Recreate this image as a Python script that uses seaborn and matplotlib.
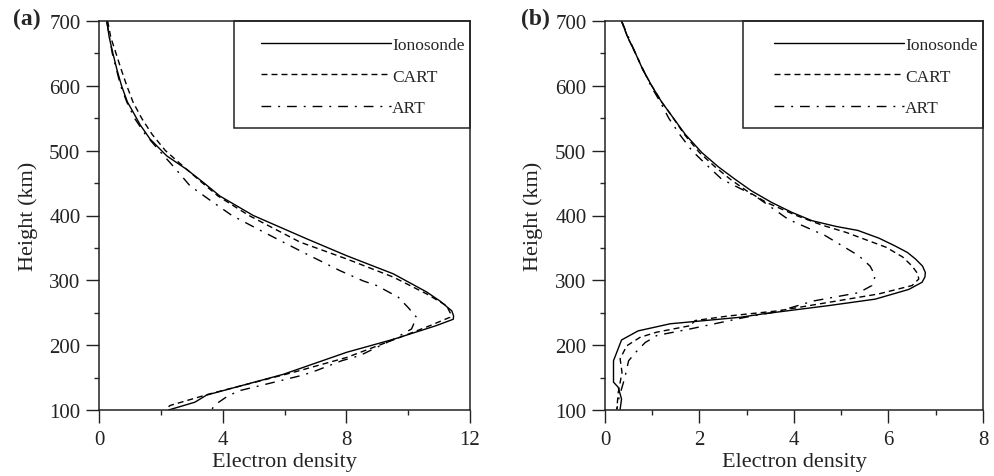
import pandas as pd
import seaborn as sns
import matplotlib.pyplot as plt
from matplotlib.patches import Rectangle

# Panel (a) profiles: height (km) and electron density
iono_a_h = [700, 675, 650, 625, 600, 575, 559, 540, 518, 492, 471, 450, 430, 400, 364, 338, 310, 282, 268, 253, 245, 240,
            230, 209, 189, 155, 123, 112, 100]
iono_a_v = [0.25, 0.33, 0.45, 0.58, 0.73, 0.92, 1.11, 1.33, 1.65, 2.19, 2.84, 3.4, 3.91, 4.99, 6.72, 8.01, 9.52, 10.6, 11.03,
            11.41, 11.47, 11.46, 10.9, 9.52, 8.01, 5.96, 3.48, 3.10, 2.25]

cart_a_h = [700, 675, 650, 625, 600, 575, 550, 525, 500, 471, 450, 430, 400, 359, 333, 305, 279, 261, 248, 243,
            230, 212, 181, 158, 125, 107, 101]
cart_a_v = [0.28, 0.38, 0.55, 0.72, 0.9, 1.1, 1.38, 1.72, 2.15, 2.84, 3.35, 3.85, 4.85, 6.5, 8.01, 9.52, 10.6, 11.24, 11.38,
            11.35, 10.7, 9.73, 8.01, 6.28, 3.59, 2.3, 2.15]

art_a_h = [700, 650, 600, 575, 550, 525, 500, 475, 446, 425, 400, 380, 364, 343, 315, 299, 292, 274, 258, 243,
           225, 209, 184, 176, 161, 154, 145, 130, 122, 108, 101]
art_a_v = [0.25, 0.43, 0.7, 0.9, 1.15, 1.5, 1.95, 2.42, 2.94, 3.55, 4.3, 5.1, 5.75, 6.61, 7.79, 8.55, 8.98, 9.68, 10.0, 10.27,
           10.11, 9.52, 8.44, 7.85, 7.04, 6.61, 5.85, 4.56, 4.18, 3.75, 3.65]

# Panel (b) profiles
iono_b_h = [700, 675, 651, 625, 600, 575, 554, 525, 497, 475, 456, 438, 420, 405, 392, 383, 377, 365, 353, 343, 333, 322,
            312, 305, 297, 286, 271, 261, 248, 243, 233, 222, 208, 176, 143, 135, 117, 101]
iono_b_v = [0.35, 0.48, 0.64, 0.8, 0.99, 1.2, 1.41, 1.7, 2.05, 2.4, 2.75, 3.1, 3.53, 3.95, 4.38, 4.9, 5.35, 5.8, 6.14, 6.4,
            6.57, 6.72, 6.78, 6.77, 6.71, 6.43, 5.72, 4.73, 3.32, 2.86, 1.38, 0.70, 0.35, 0.18, 0.18, 0.28, 0.35, 0.32]

cart_b_h = [700, 675, 651, 625, 600, 575, 554, 525, 497, 475, 456, 438, 420, 400, 385, 374, 351, 336, 322, 310, 302, 292,
            279, 266, 253, 245, 238, 230, 220, 212, 199, 179, 158, 127, 101]
cart_b_v = [0.35, 0.48, 0.64, 0.8, 0.99, 1.2, 1.41, 1.68, 2.0, 2.33, 2.65, 3.0, 3.42, 4.05, 4.6, 5.1, 5.95, 6.3, 6.5, 6.62,
            6.64, 6.5, 5.79, 4.73, 3.67, 2.61, 1.91, 1.8, 1.09, 0.74, 0.46, 0.32, 0.36, 0.28, 0.25]

art_b_h = [700, 651, 600, 575, 550, 525, 500, 478, 456, 430, 394, 369, 338, 322, 307, 292, 281, 268, 252, 243,
           225, 215, 204, 189, 176, 150, 120, 101]
art_b_v = [0.35, 0.64, 0.97, 1.17, 1.35, 1.58, 1.84, 2.15, 2.47, 3.18, 3.88, 4.66, 5.37, 5.61, 5.72, 5.65, 5.37, 4.4, 3.67,
           2.97, 1.8, 1.1, 0.85, 0.65, 0.5, 0.42, 0.3, 0.25]

labels = ['Ionosonde', 'CART', 'ART']
styles = ['-', (0, (4.3, 2.9)), (0, (7, 5, 1.4, 5))]

sns.set_style('ticks')
plt.rcParams['font.family'] = ['Liberation Serif', 'DejaVu Serif']
plt.rcParams['lines.scale_dashes'] = False

fig = plt.figure(figsize=(9.95, 4.77), dpi=100)
ax_a = fig.add_axes([99 / 995, 66 / 477, 371 / 995, 389 / 477])
ax_b = fig.add_axes([605 / 995, 66 / 477, 378 / 995, 389 / 477])

panels = [
    (ax_a, [(iono_a_v, iono_a_h), (cart_a_v, cart_a_h), (art_a_v, art_a_h)], 12, 4, 2),
    (ax_b, [(iono_b_v, iono_b_h), (cart_b_v, cart_b_h), (art_b_v, art_b_h)], 8, 2, 1),
]

for ax, series, xmax, xstep, xminor in panels:
    for (v, h), lab, ls in zip(series, labels, styles):
        df = pd.DataFrame({'v': v, 'h': h})
        sns.lineplot(data=df, x='v', y='h', sort=False, estimator=None,
                     color='black', linewidth=1.0, linestyle=ls, label=lab, ax=ax)
    ax.set_xlim(0, xmax)
    ax.set_ylim(100, 700)
    ax.set_xticks(range(0, xmax + 1, xstep))
    ax.set_xticks(range(0, xmax + 1, xminor), minor=True)
    ax.set_yticks(range(100, 701, 100))
    ax.set_yticks(range(150, 700, 100), minor=True)
    ax.tick_params(which='major', direction='out', length=9.4, width=1.0, labelsize=15, colors='#222222')
    ax.tick_params(axis='x', which='major', pad=5)
    ax.tick_params(axis='y', which='major', pad=4)
    ax.tick_params(which='minor', direction='out', length=3.6, width=1.0)
    for sp in ax.spines.values():
        sp.set_linewidth(1.1)
        sp.set_color('#222222')
    ax.set_xlabel('Electron density', fontsize=16, color='#222222')
    ax.set_ylabel('Height (km)', fontsize=16, color='#222222')
    ax.xaxis.set_label_coords(0.5, -0.108)
    ax.yaxis.set_label_coords(-0.165, 0.5)
    ax.legend(loc='upper right', bbox_to_anchor=(1.0, 0.972), frameon=False,
              fontsize=12.5, handlelength=7.5, handletextpad=0.05,
              labelspacing=0.87, borderpad=0.3, borderaxespad=0)
    ax.add_patch(Rectangle((0.364, 0.725), 0.636, 0.275, transform=ax.transAxes,
                           fill=False, edgecolor='#222222', linewidth=1.1, clip_on=False))

fig.text(27 / 995, 1 - 19 / 477, '(a)', fontsize=17, fontweight='bold', ha='center', va='center')
fig.text(535 / 995, 1 - 19 / 477, '(b)', fontsize=17, fontweight='bold', ha='center', va='center')

fig.savefig('out.png', dpi=100)
